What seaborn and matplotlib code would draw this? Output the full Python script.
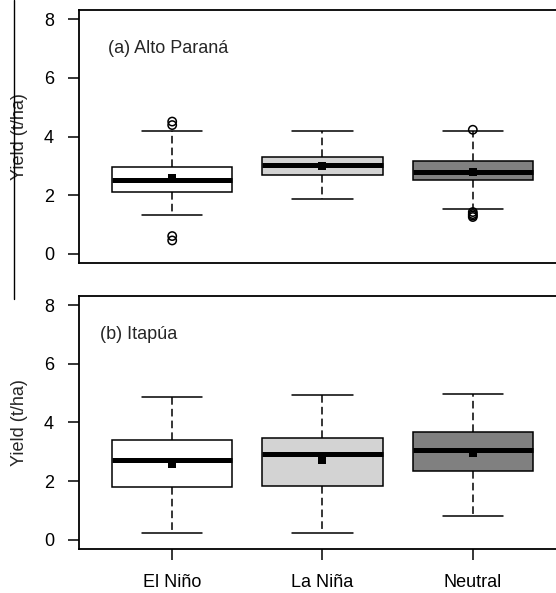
import numpy as np
import pandas as pd
import matplotlib
matplotlib.use("Agg")
import matplotlib.pyplot as plt
from matplotlib.lines import Line2D
import seaborn as sns

categories = ["El Niño", "La Niña", "Neutral"]
colors = ["#FFFFFF", "#D3D3D3", "#808080"]

# (a) Alto Paraná five-number summaries
a_whislo = [1.33, 1.87, 1.52]
a_q1 = [2.12, 2.67, 2.50]
a_med = [2.50, 3.01, 2.80]
a_q3 = [2.95, 3.31, 3.17]
a_whishi = [4.18, 4.20, 4.18]
a_mean = [2.59, 3.00, 2.80]
a_out_cat = ["El Niño", "El Niño", "El Niño", "El Niño",
             "Neutral", "Neutral", "Neutral", "Neutral", "Neutral"]
a_out_val = [4.51, 4.39, 0.60, 0.45, 4.23, 1.42, 1.35, 1.30, 1.25]

# (b) Itapúa five-number summaries
b_whislo = [0.23, 0.22, 0.79]
b_q1 = [1.81, 1.83, 2.33]
b_med = [2.71, 2.93, 3.05]
b_q3 = [3.41, 3.46, 3.68]
b_whishi = [4.87, 4.94, 4.97]
b_mean = [2.59, 2.73, 2.96]

yticks = [0, 2, 4, 6, 8]
ylabel = "Yield (t/ha)"
titles = ["(a) Alto Paraná", "(b) Itapúa"]

sns.set_style("ticks")
plt.rcParams["font.family"] = ["Liberation Sans", "DejaVu Sans"]
plt.rcParams["axes.linewidth"] = 1.3
FS = 13


def summary_frame(lo, q1, med, q3, hi):
    rows = []
    for c, *vals in zip(categories, lo, q1, med, q3, hi):
        for v in vals:
            rows.append({"cat": c, "val": v})
    return pd.DataFrame(rows)


fig = plt.figure(figsize=(5.56, 5.93), dpi=100)
W, H = 556, 593
def pos(l, t, r, b):
    return [l / W, 1 - b / H, (r - l) / W, (b - t) / H]

ax1 = fig.add_axes(pos(79, 10, 566, 263))
ax2 = fig.add_axes(pos(79, 296, 566, 549))

panels = [
    (ax1, (a_whislo, a_q1, a_med, a_q3, a_whishi), a_mean, (a_out_cat, a_out_val), (-0.427, 7.01)),
    (ax2, (b_whislo, b_q1, b_med, b_q3, b_whishi), b_mean, None, (-0.48, 7.0)),
]

for i, (ax, stats, means, outs, tpos) in enumerate(panels):
    df = summary_frame(*stats)
    sns.boxplot(data=df, x="cat", y="val", hue="cat", order=categories,
                hue_order=categories, palette=colors, legend=False,
                width=0.8, whis=(0, 100), linecolor="black", linewidth=1.1,
                showfliers=False, ax=ax,
                medianprops={"linewidth": 3.6, "color": "black", "solid_capstyle": "butt"},
                whiskerprops={"linestyle": (0, (5, 2.7)), "linewidth": 1.1},
                capprops={"linestyle": "-", "linewidth": 1.1})
    mdf = pd.DataFrame({"cat": categories, "val": means})
    sns.stripplot(data=mdf, x="cat", y="val", order=categories, jitter=False,
                  marker="s", color="black", size=5.5, linewidth=0, ax=ax, zorder=5)
    if outs is not None:
        n_before = len(ax.collections)
        odf = pd.DataFrame({"cat": outs[0], "val": outs[1]})
        sns.stripplot(data=odf, x="cat", y="val", order=categories, jitter=False,
                      marker="o", color="black", size=6, linewidth=1.1, ax=ax, zorder=5)
        for coll in ax.collections[n_before:]:
            coll.set_facecolor("none")
            coll.set_edgecolor("black")
    ax.set_xlim(-0.62, 2.62)
    ax.set_ylim(-0.32, 8.32)
    ax.set_yticks(yticks)
    ax.set_yticklabels([str(t) for t in yticks])
    ax.tick_params(axis="y", length=8, width=1.1, pad=10, labelsize=FS, colors="black")
    for s in ax.spines.values():
        s.set_visible(True)
        s.set_color("black")
        s.set_linewidth(1.3)
    ax.set_ylabel(ylabel, fontsize=FS)
    ax.yaxis.set_label_coords(-0.105, 0.5)
    ax.text(tpos[0], tpos[1], titles[i], fontsize=FS, ha="left", va="center")
    ax.set_xlabel("")

ax1.tick_params(axis="x", bottom=False, labelbottom=False)
ax2.set_xticks([0, 1, 2])
ax2.set_xticklabels(categories)
ax2.tick_params(axis="x", length=8, width=1.1, pad=10, labelsize=FS, colors="black")

fig.add_artist(Line2D([13.5 / W, 13.5 / W], [1, 1 - 299 / H], color="black", lw=1.0))

fig.savefig("out.png", dpi=100)
